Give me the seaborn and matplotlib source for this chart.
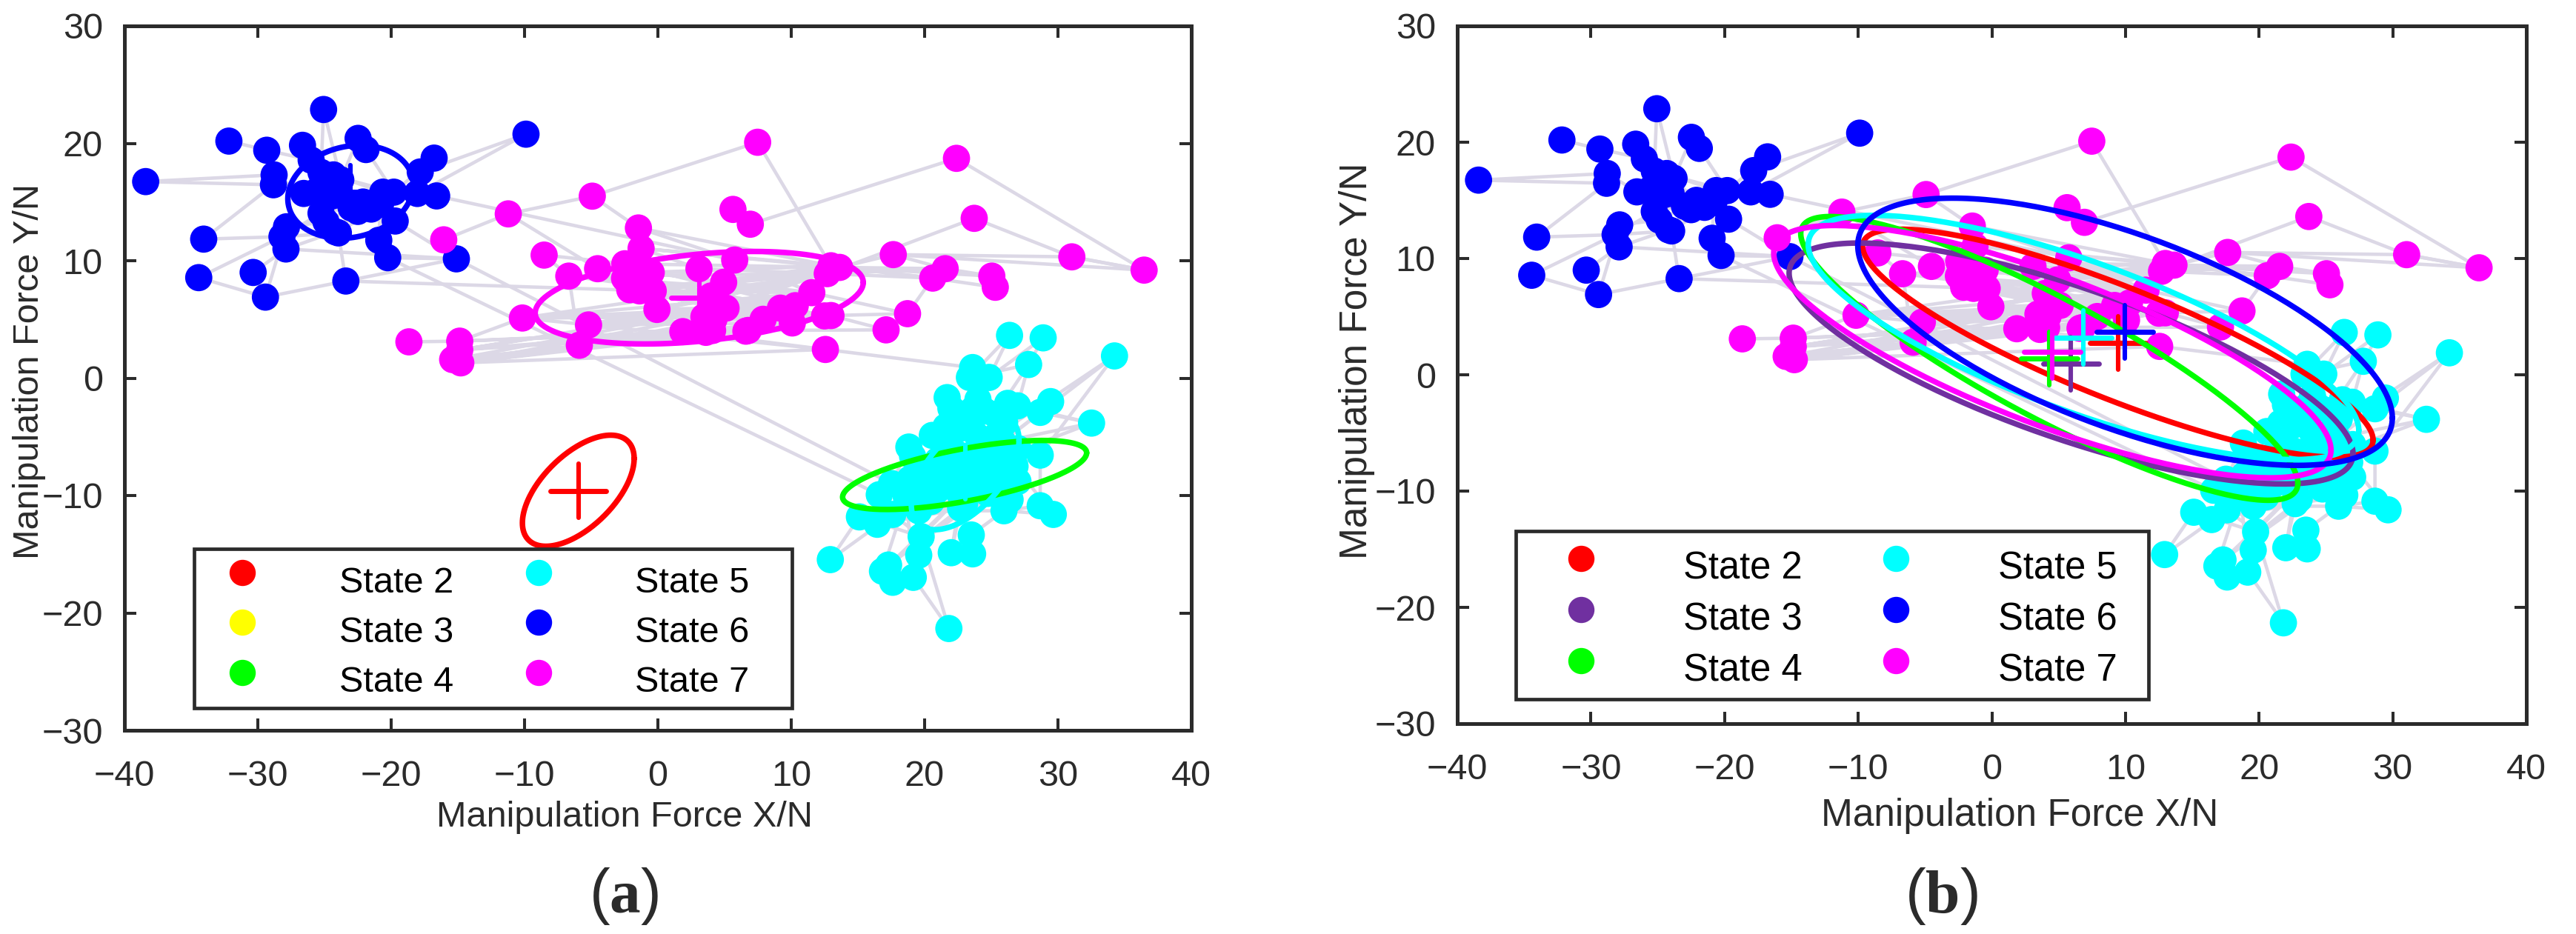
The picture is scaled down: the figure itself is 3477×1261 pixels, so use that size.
import numpy as np
import pandas as pd
import seaborn as sns
import matplotlib
matplotlib.use("Agg")
import matplotlib.pyplot as plt
from matplotlib.lines import Line2D
from matplotlib.patches import Rectangle

# ---------- observed points ----------
blue_x = [-25.07,-32.17,-29.33,-26.65,-22.48,-21.89,-16.78,-17.82,-38.41,-28.78,-28.83,-26.0,-26.56,-25.26,-24.33,-23.78,-16.59,-18.04,-20.63,-19.8,-22.11,-20.8,-25.26,-24.89,-24.19,-23.96,-19.7,-27.85,-28.19,-27.89,-20.93,-20.26,-15.11,-34.06,-34.43,-30.35,-29.43,-23.4,-9.89,-25.0,-24.5,-25.5,-23.0,-22.5,-21.5,-24.0]
blue_y = [22.88,20.19,19.41,19.83,20.42,19.47,18.74,17.56,16.74,17.31,16.47,18.57,15.73,17.52,17.31,16.89,15.52,15.73,15.84,15.84,15.0,14.8,14.05,13.31,12.47,12.37,13.38,12.89,12.05,11.0,11.74,10.26,10.16,11.84,8.56,9.0,6.9,8.27,20.78,16.5,15.5,16.0,14.5,14.2,14.4,15.6]
magenta_x = [7.48,-4.92,-11.22,5.63,6.93,-1.46,-1.26,-8.53,-6.68,-4.52,-2.48,-0.9,-2.11,-1.37,-0.35,-0.07,-10.16,-5.2,-5.89,3.08,5.76,4.93,5.11,3.45,4.1,1.87,6.78,7.89,10.08,9.19,10.3,11.54,12.98,12.56,12.7,12.98,13.63,-18.67,-14.86,-14.86,-15.39,-14.78,22.39,23.72,17.65,31.04,36.46,21.54,20.61,25.04,25.3,18.72,17.11,6.6,12.5,-16.06,-1.0,-2.5,-0.5,4.0,4.2,3.6]
magenta_y = [20.09,15.5,13.99,14.37,13.11,12.79,11.05,10.48,8.69,9.32,9.74,9.0,7.53,7.43,7.43,5.85,5.12,4.53,2.8,9.32,10.06,8.16,5.96,5.22,4.06,3.96,4.06,5.01,4.7,5.96,6.17,7.28,5.33,2.44,8.9,9.57,9.43,3.09,3.15,2.4,1.58,1.3,18.72,13.61,10.52,10.33,9.2,9.32,8.52,8.69,7.74,5.49,4.11,4.0,5.3,11.78,8.0,8.5,9.0,7.0,5.0,3.9]
cyan_x = [26.37,28.89,34.24,27.8,23.6,24.84,23.36,21.69,21.97,29.45,28.67,26.97,26.23,24.0,23.63,25.3,32.52,21.6,20.58,22.52,25.48,18.82,19.1,21.6,25.85,28.67,26.78,25.48,23.63,21.78,19.56,20.48,17.52,16.6,18.63,22.7,24.74,26.41,25.95,22.7,15.11,16.45,17.61,19.56,28.67,29.65,19.74,23.5,22.0,23.6,19.56,12.93,17.3,16.84,17.61,19.15,21.82,23.0,21.0,24.0,22.5,24.0,25.0,21.0,20.0,26.0,27.0,23.5,24.5,22.5,26.0,24.0,20.5,23.0,25.3,27.0,22.0,18.9]
cyan_y = [3.64,3.43,1.89,1.16,0.9,0.06,0.06,-1.66,-2.57,-2.0,-2.92,-2.36,-2.15,-1.83,-2.67,-3.09,-3.83,-4.14,-4.88,-4.35,-4.78,-5.87,-6.67,-5.62,-5.41,-6.56,-7.51,-6.88,-7.3,-7.51,-7.72,-8.98,-8.98,-9.93,-10.14,-10.03,-9.82,-10.35,-11.3,-11.08,-11.82,-12.45,-11.61,-11.3,-10.87,-11.61,-13.5,-13.36,-14.87,-14.97,-15.08,-15.46,-15.92,-16.45,-17.39,-16.97,-21.33,-9.0,-9.5,-8.5,-6.5,-5.0,-9.0,-7.0,-9.5,-9.0,-6.0,-4.0,-2.8,-3.0,-3.8,-6.0,-10.5,-10.7,-8.0,-8.8,-8.6,-8.6]

# visit order of the manipulation trajectory, as point ids
paths = [
 "b1 b2 b11 b3 b13 b0 b15 b4 b5 b19 b6 b7 b38 b17 b21 b12 b9 b8 b10 b33 b28 b22 b24 b29 b35 b36 b27 b23 b20 b14 b18 b16 m20",
 "b34 b28 b25 b21 b30 b26 b32 c32", "b34 b36 b37 m14", "b37 b32 b29", "b31 b32", "b31 c33", "b37 b25 b13 b19 b22 b17 b12 b18 b24 b20 b26",
 "m55 m2 m1 m0 m35", "m2 m9", "m7 m10", "m7 m8 m18", "m1 m5 m36", "m3 m4 m42 m46 m45 m43 m34",
 "m37 m38 m16 m29 m18 m32 m41 m28 m40 m53 m39 m31 m17 m34 m15 m36 m12 m30 m8 m35 m14 m54 m16 m33 m41 m26 m38 m25 m39 m22 m40 m24 m41 m23",
 "m5 m20 m31 m11 m35 m6 m36 m10 m30 m13 m34 m12 m29 m9 m54 m15 m32 m17 m28 m18 m26",
 "m6 m19 m34 m21 m36 m22 m35 m23 m32 m24 m28 m25 m33",
 "m17 m54 m15 m28 m18 m32 m16 m31 m17 m36 m15 m30 m16 m34 m8 m31 m13 m32 m14 m28 m12 m54",
 "m44 m45 m46 m44 m36", "m44 m47 m49 m36", "m50 m48 m35", "m48 m34 m47 m36 m48 m51 m31", "m51 m32 m52 m26", "m33 c4",
 "c0 c5 c1 c3 c11", "c0 c6 c3 c15", "c2 c25 c24 c2 c20 c27", "c16 c10 c24 c16 c27 c35", "c16 c11", "c9 c11 c12 c27 c14",
 "c44 c38 c45 c26 c25 c44", "c47 c38 c37", "c51 c40 c46 c43", "c51 c42 c46 c50", "c56 c46 c35", "c56 c55 c34 c53 c35 c48 c39 c52 c36",
 "c21 c32 c28 c22 c29 c30 c26 c31 c24 c33 c35 c34 c36 c42 c27 c41 c37 c43 c38",
]

# Gaussian state ellipses: centre, x and y half-extent, correlation
a_names = ["State 2", "State 4", "State 5", "State 6", "State 7"]
a_cx = [-5.97, 23.0, 23.04, -23.05, 3.1]
a_cy = [-9.59, -8.25, -8.03, 15.87, 6.85]
a_sx = [4.19, 9.15, 4.04, 4.7, 12.3]
a_sy = [4.73, 2.94, 4.88, 3.96, 3.94]
a_rho = [0.58, 0.64, 0.56, 0.15, 0.33]
a_hidden_centres = ["State 4"]

b_names = ["State 2", "State 3", "State 4", "State 5", "State 7", "State 6"]
b_cx = [9.43, 5.93, 4.3, 6.86, 4.53, 9.97]
b_cy = [2.72, 0.97, 1.41, 3.21, 1.99, 3.7]
b_sx = [19.1, 21.1, 18.6, 20.6, 20.85, 20.0]
b_sy = [9.8, 10.36, 12.2, 10.5, 10.85, 11.49]
b_rho = [-0.85, -0.75, -0.88, -0.76, -0.78, -0.645]

state_labels = ["State 2", "State 3", "State 4", "State 5", "State 6", "State 7"]
x_ticks = [-40, -30, -20, -10, 0, 10, 20, 30, 40]
y_ticks = [-30, -20, -10, 0, 10, 20, 30]

colors_a = {"State 2": "#ff0000", "State 3": "#ffff00", "State 4": "#00ff00", "State 5": "#00ffff", "State 6": "#0000ff", "State 7": "#ff00ff"}
colors_b = dict(colors_a, **{"State 3": "#7030a0"})
DARK = "#2b2b2b"
TRACK = "#dcd8e6"

sns.set_theme(style="ticks")
plt.rcParams["font.family"] = ["Liberation Sans", "DejaVu Sans"]
plt.rcParams["mathtext.fontset"] = "custom"
plt.rcParams["mathtext.rm"] = "Liberation Serif"
plt.rcParams["mathtext.bf"] = "Liberation Serif:bold"

W, H = 3477, 1261
fig = plt.figure(figsize=(W / 100, H / 100), dpi=100, facecolor="white")

def make_axes(l, r, t, b):
    return fig.add_axes([l / W, 1 - b / H, (r - l) / W, (b - t) / H])

coords = {}
for k, xs, ys in (("b", blue_x, blue_y), ("m", magenta_x, magenta_y), ("c", cyan_x, cyan_y)):
    for i, (px, py) in enumerate(zip(xs, ys)):
        coords[f"{k}{i}"] = (px, py)
rows = []
for u, p in enumerate(paths):
    for o, pid in enumerate(p.split()):
        rows.append((u, o, coords[pid][0], coords[pid][1]))
track_df = pd.DataFrame(rows, columns=["unit", "order", "x", "y"])
points_df = pd.concat([
    pd.DataFrame({"x": blue_x, "y": blue_y, "state": "State 6"}),
    pd.DataFrame({"x": magenta_x, "y": magenta_y, "state": "State 7"}),
    pd.DataFrame({"x": cyan_x, "y": cyan_y, "state": "State 5"}),
], ignore_index=True)

t = np.linspace(0, 2 * np.pi, 241)

def ellipse_frame(names, cx, cy, sx, sy, rho):
    frames = []
    for n, a, b, c, d, r in zip(names, cx, cy, sx, sy, rho):
        frames.append(pd.DataFrame({"state": n, "x": a + c * np.cos(t),
                                    "y": b + d * (r * np.cos(t) + np.sqrt(1 - r ** 2) * np.sin(t))}))
    return pd.concat(frames, ignore_index=True)

def draw(ax, names, cx, cy, sx, sy, rho, colors, fs_leg, fs_xl, box, leg_xy, leg_kw, xl_xy, yl_xy, hidden=()):
    sns.lineplot(data=track_df, x="x", y="y", units="unit", estimator=None, sort=False,
                 color=TRACK, lw=3.3, ax=ax, zorder=1, legend=False)
    sns.scatterplot(data=points_df, x="x", y="y", hue="state", palette=colors, s=700, linewidth=0,
                    ax=ax, zorder=2, legend=False)
    ell = ellipse_frame(names, cx, cy, sx, sy, rho)
    for i, n in enumerate(names):
        z = 3 + i * 0.1
        col = colors[n]
        sns.lineplot(data=ell[ell.state == n], x="x", y="y", sort=False, estimator=None,
                     color=col, lw=5.4, ax=ax, zorder=z, legend=False)
        if n in hidden:
            continue
        ax.plot([cx[i] - 2.1, cx[i] + 2.1], [cy[i], cy[i]], color=col, lw=5.0, zorder=z, solid_capstyle="round")
        ax.plot([cx[i], cx[i]], [cy[i] - 2.3, cy[i] + 2.3], color=col, lw=4.4, zorder=z, solid_capstyle="round")
    ax.set_xlim(-40, 40)
    ax.set_ylim(-30, 30)
    ax.set_xticks(x_ticks)
    ax.set_yticks(y_ticks)
    ax.tick_params(axis="x", direction="in", length=11.5, width=2.9, top=True, labelsize=35,
                   pad=29, colors=DARK)
    ax.tick_params(axis="y", direction="in", length=11.5, width=2.9, right=True, labelsize=35,
                   pad=21, colors=DARK)
    for s in ax.spines.values():
        s.set_visible(True)
        s.set_linewidth(3.6)
        s.set_color(DARK)
    ax.set_xlabel("Manipulation Force X/N", fontsize=fs_xl, color=DARK, va="center")
    ax.set_ylabel("Manipulation Force Y/N", fontsize=fs_xl, color=DARK, va="center")
    ax.xaxis.set_label_coords(*xl_xy)
    ax.yaxis.set_label_coords(*yl_xy)
    ax.add_patch(Rectangle(box[:2], box[2], box[3], transform=ax.transAxes, facecolor="white",
                           edgecolor=DARK, lw=3.4, zorder=5, clip_on=False))
    handles = [Line2D([], [], ls="none", marker="o", ms=25.5, mew=0, color=colors[s]) for s in state_labels]
    leg = ax.legend(handles, state_labels, ncol=2, loc="upper left", bbox_to_anchor=leg_xy,
                    bbox_transform=ax.transAxes, frameon=False, fontsize=fs_leg, borderpad=0,
                    borderaxespad=0, **leg_kw)
    leg.set_zorder(6)
    for tx in leg.get_texts():
        tx.set_color("black")
    for h in leg.legend_handles:
        h.set_ydata(np.asarray(h.get_ydata()) + 7)

# panel a
axa = make_axes(168, 1608, 35, 986)
draw(axa, a_names, a_cx, a_cy, a_sx, a_sy, a_rho, colors_a, 35, 35,
     ((262 - 168) / 1440, (986 - 956) / 951, (1069 - 262) / 1440, (956 - 741) / 951),
     ((307 - 168) / 1440, (986 - 765) / 951),
     dict(handlelength=0.82, handletextpad=2.28, columnspacing=1.95, labelspacing=0.455),
     (0.469, -0.124), (-0.089, 0.51), hidden=a_hidden_centres)
# panel b
axb = make_axes(1967, 3410, 35, 977)
draw(axb, b_names, b_cx, b_cy, b_sx, b_sy, b_rho, colors_b, 36.5, 37,
     ((2046 - 1967) / 1443, (977 - 944) / 942, (2900 - 2046) / 1443, (944 - 717) / 942),
     ((2114 - 1967) / 1443, (977 - 743) / 942),
     dict(handlelength=0.8, handletextpad=2.32, columnspacing=2.08, labelspacing=0.40),
     (0.526, -0.132), (-0.094, 0.52))

fig.text(842 / W, 1 - 1210 / H, r"($\mathbf{a}$)", fontsize=60, ha="center", va="center", color=DARK)
fig.text(2620 / W, 1 - 1210 / H, r"($\mathbf{b}$)", fontsize=60, ha="center", va="center", color=DARK)

fig.savefig("out.png", dpi=100, facecolor="white")
